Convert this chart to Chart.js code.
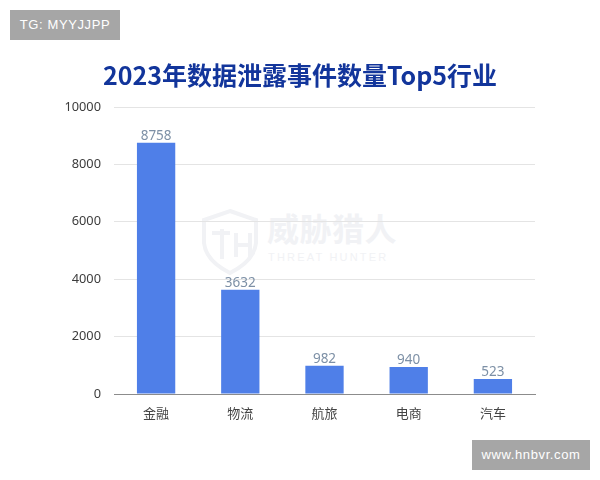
<!DOCTYPE html>
<html lang="zh">
<head>
<meta charset="utf-8">
<script src="https://cdn.jsdelivr.net/npm/chart.js@4/dist/chart.umd.js"></script>
<style>
html,body{margin:0;padding:0;background:#fff;width:600px;height:480px;overflow:hidden}
#wrap{position:relative;width:600px;height:480px}
canvas{position:absolute;left:0;top:0}
.tag{position:absolute;background:#a6a6a6;color:#fff;font-family:"Liberation Sans",Arial,sans-serif;font-size:13px;letter-spacing:.6px;text-align:center}
#title{position:absolute;left:0;top:56px;width:600px;text-align:center;color:#12359b;font:700 25px/36px "Noto Sans CJK SC",sans-serif;white-space:nowrap}
#wm{position:absolute;left:200px;top:203px;width:210px;height:70px;color:#f1f2f5;font-family:"Noto Sans CJK SC",sans-serif}
#wm b{position:absolute;left:67px;top:6px;font-size:32px;line-height:36px;font-weight:700;white-space:nowrap;letter-spacing:.5px}
#wm i{position:absolute;left:68px;top:48px;font-size:11px;line-height:13px;font-style:normal;white-space:nowrap;letter-spacing:2.2px;font-family:"Liberation Sans",sans-serif}
#wm svg{position:absolute;left:0;top:4px}
</style>
</head>
<body>
<div id="wrap">
  <div id="wm">
    <svg width="60" height="68" viewBox="0 0 60 68" fill="none" stroke="#f1f2f5" stroke-width="4"><path d="M30 4 L56 13 L56 36 Q54 54 30 66 Q6 54 4 36 L4 13 Z"/><path d="M22 22 V52 M12 26 H30 M36 26 V50 M50 26 V50 M36 38 H50"/></svg>
    <b>威胁猎人</b><i>THREAT HUNTER</i>
  </div>
  <canvas id="c" width="600" height="480"></canvas>
  <div id="title"></div>
  <div class="tag" style="left:10px;top:10px;width:110px;height:30px;line-height:30px">TG: MYYJJPP</div>
  <div class="tag" style="left:472px;top:440px;width:118px;height:30px;line-height:30px">www.hnbvr.com</div>
</div>
<script>
const categories = ["金融", "物流", "航旅", "电商", "汽车"];
const seriesValues = [8758, 3632, 982, 940, 523];
const yTicks = [0, 2000, 4000, 6000, 8000, 10000];
const chartTitle = "2023年数据泄露事件数量Top5行业";

document.getElementById("title").textContent = chartTitle;

const valueLabels = {
  id: "valueLabels",
  afterDatasetsDraw(chart) {
    const { ctx } = chart;
    ctx.save();
    ctx.font = '13.5px "Noto Sans", sans-serif';
    ctx.fillStyle = "#7d90a6";
    ctx.textAlign = "center";
    ctx.textBaseline = "bottom";
    chart.getDatasetMeta(0).data.forEach((bar, i) => {
      ctx.fillText(String(seriesValues[i]), bar.x, bar.y);
    });
    ctx.restore();
  }
};

new Chart(document.getElementById("c"), {
  type: "bar",
  data: {
    labels: categories,
    datasets: [{
      data: seriesValues,
      backgroundColor: "#4f7fe8",
      barPercentage: 0.455,
      categoryPercentage: 1
    }]
  },
  options: {
    responsive: false,
    animation: false,
    devicePixelRatio: 1,
    layout: { padding: { top: 107, left: 0, right: 65, bottom: 0 } },
    plugins: {
      legend: { display: false },
      tooltip: { enabled: false },
      title: { display: false }
    },
    scales: {
      x: {
        grid: { display: false, drawTicks: false },
        border: { color: "#8c8c8c", width: 1 },
        ticks: {
          color: "#444",
          padding: 11,
          font: { family: '"Noto Sans CJK SC", sans-serif', size: 13 }
        },
        afterFit(s) { s.height = 86; }
      },
      y: {
        min: 0,
        max: 10000,
        afterBuildTicks(s) { s.ticks = yTicks.map(v => ({ value: v })); },
        grid: { color: "#e4e4e4", lineWidth: 1, drawTicks: false },
        border: { display: false },
        ticks: {
          color: "#3c3c3c",
          padding: 13,
          font: { family: '"Noto Sans", sans-serif', size: 12.8 },
          callback: v => String(v)
        },
        afterFit(s) { s.width = 114; }
      }
    }
  },
  plugins: [valueLabels]
});
</script>
</body>
</html>
